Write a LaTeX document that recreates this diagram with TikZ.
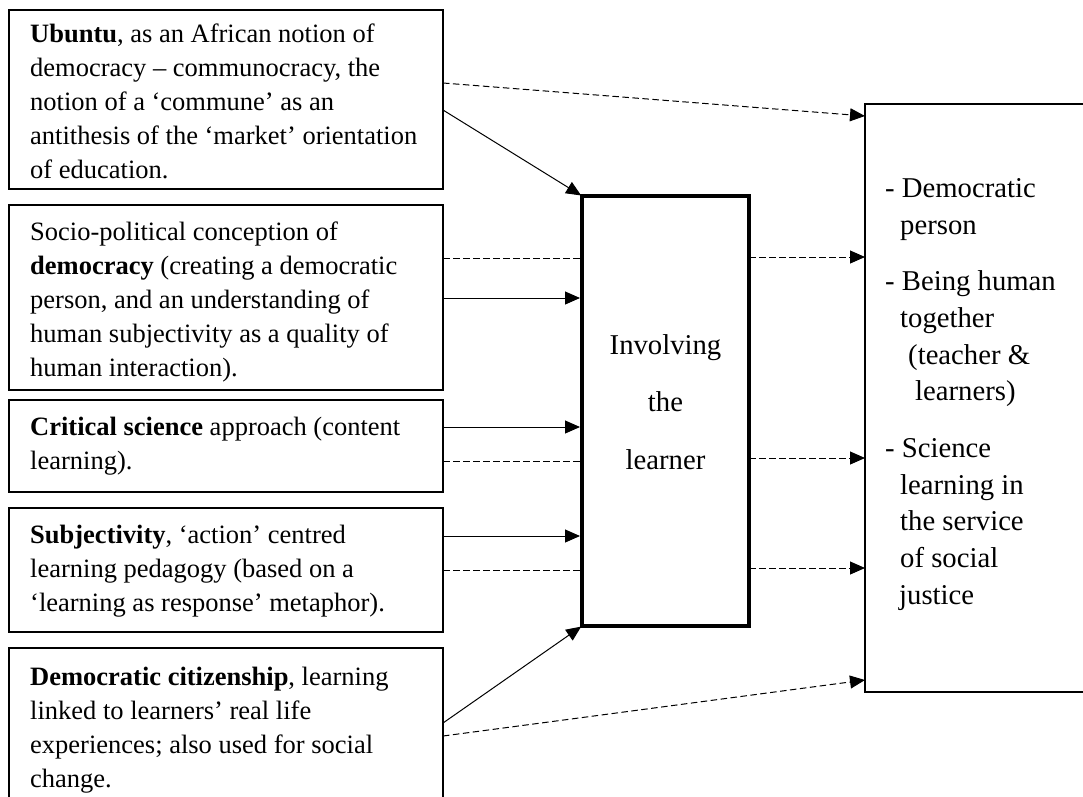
\documentclass[tikz,border=0pt]{standalone}
\usepackage{fontspec}
\setmainfont{Liberation Serif}
\usetikzlibrary{arrows.meta}
\begin{document}
\begin{tikzpicture}[x=1pt,y=-1pt,
  srcbox/.style={draw, line width=1.2pt, minimum width=434pt, inner sep=0pt,
    outer sep=0pt, anchor=north west},
  srctext/.style={align=left, inner sep=0pt, anchor=west,
    font=\fontsize{26.5pt}{34pt}\selectfont},
  midbox/.style={draw, line width=4pt, minimum width=167pt, minimum height=430pt,
    inner sep=0pt, outer sep=0pt, anchor=north west},
  outbox/.style={draw, line width=1.2pt, minimum width=240pt, minimum height=588pt,
    inner sep=0pt, outer sep=0pt, anchor=north west},
  arr/.style={line width=1pt, -{Triangle[length=15pt,width=13pt]}},
  dashline/.style={line width=1pt, dash pattern=on 6.5pt off 3.5pt},
  dasharr/.style={dashline, -{Triangle[length=15pt,width=13pt]}},
]
\useasboundingbox (0,0) rectangle (1083,796);
\fill[white] (0,0) rectangle (1083,796);
\clip (0,0) rectangle (1083,796);

% source boxes on the left
\node[srcbox, minimum height=179pt] (b1) at (9,10) {};
\node[srcbox, minimum height=185pt] (b2) at (9,205) {};
\node[srcbox, minimum height=92pt]  (b3) at (9,400) {};
\node[srcbox, minimum height=124pt] (b4) at (9,508) {};
\node[srcbox, minimum height=160pt] (b5) at (9,648) {};

\node[srctext] (t1) at ([xshift=21pt,yshift=-4pt]b1.west) {\strut\textbf{Ubuntu}, as an African notion of\\
  democracy – communocracy, the\\
  notion of a ‘commune’ as an\\
  antithesis of the ‘market’ orientation\\
  of education.\strut};
\node[srctext] (t2) at ([xshift=21pt,yshift=-4pt]b2.west) {\strut Socio-political conception of\\
  \textbf{democracy} (creating a democratic\\
  person, and an understanding of\\
  human subjectivity as a quality of\\
  human interaction).\strut};
\node[srctext] (t3) at ([xshift=21pt]b3.west) {\strut\textbf{Critical science} approach (content\\
  learning).\strut};
\node[srctext] (t4) at ([xshift=21pt,yshift=-1pt]b4.west) {\strut\textbf{Subjectivity}, ‘action’ centred\\
  learning pedagogy (based on a\\
  ‘learning as response’ metaphor).\strut};
\node[srctext] (t5) at ([xshift=21pt,yshift=-2pt]b5.west) {\strut\textbf{Democratic citizenship}, learning\\
  linked to learners’ real life\\
  experiences; also used for social\\
  change.\strut};

% central box
\node[midbox] (mid) at (582,196) {};
\node[align=center, inner sep=0pt, font=\fontsize{28.7pt}{57.5pt}\selectfont]
  (midtext) at ([yshift=11pt]mid.center) {\strut Involving\\the\\learner\strut};

% outcome box on the right
\node[outbox] (out) at (865,104) {};
\node[align=left, inner sep=0pt, anchor=west, font=\fontsize{28.7pt}{36.7pt}\selectfont]
  (outtext) at ([xshift=20pt,yshift=4.5pt]out.west) {\strut- Democratic\\
  \hspace*{15pt}person\\[20pt]
  - Being human\\
  \hspace*{15pt}together\\
  \hspace*{23pt}(teacher \&\\
  \hspace*{30pt}learners)\\[20pt]
  - Science\\
  \hspace*{15pt}learning in\\
  \hspace*{15pt}the service\\
  \hspace*{15pt}of social\\
  \hspace*{14pt}justice\strut};

% connectors
\draw[arr, shorten >=1pt] ([yshift=-10.5pt]b1.east) -- (mid.north west);
\draw[dasharr] ([yshift=16.5pt]b1.east) -- ([yshift=282pt]out.west);

\draw[dashline] ([yshift=39.5pt]b2.east) -- ([yshift=153pt]mid.west);
\draw[dasharr] ([yshift=154pt]mid.east) -- ([yshift=141pt]out.west);
\draw[arr, shorten >=2pt] ([yshift=-0.5pt]b2.east) -- ([yshift=113pt]mid.west);

\draw[arr, shorten >=2pt] ([yshift=19pt]b3.east) -- ([yshift=-16pt]mid.west);
\draw[dashline] ([yshift=-15pt]b3.east) -- ([yshift=-50pt]mid.west);
\draw[dasharr] ([yshift=-47pt]mid.east) -- ([yshift=-60pt]out.west);

\draw[arr, shorten >=2pt] ([yshift=34pt]b4.east) -- ([yshift=-125pt]mid.west);
\draw[dashline] (b4.east) -- ([yshift=-159pt]mid.west);
\draw[dasharr] ([yshift=-157pt]mid.east) -- ([yshift=-170pt]out.west);

\draw[arr, shorten >=1pt] ([yshift=5pt]b5.east) -- (mid.south west);
\draw[dasharr] ([yshift=-8pt]b5.east) -- ([yshift=-282pt]out.west);
\end{tikzpicture}
\end{document}
